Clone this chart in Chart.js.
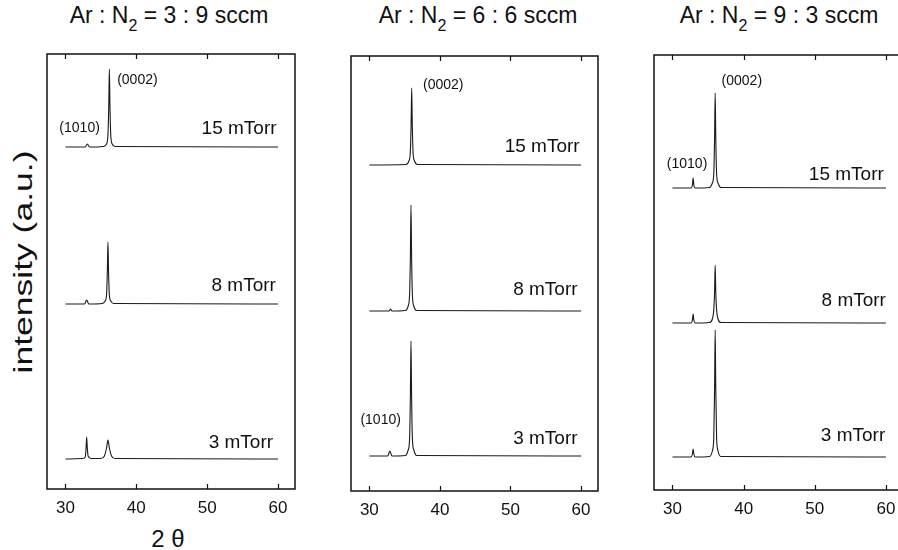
<!DOCTYPE html>
<html>
<head>
<meta charset="utf-8">
<script src="https://cdn.jsdelivr.net/npm/chart.js@4.4.1/dist/chart.umd.min.js"></script>
<style>
  body { margin: 0; width: 898px; height: 550px; overflow: hidden; background: #fff; position: relative;
         font-family: "Liberation Sans", Arial, sans-serif; color: #111; }
  canvas { position: absolute; }
  .title { position: absolute; top: 4px; font-size: 23px; line-height: 23px; white-space: nowrap; transform: translateX(-50%); }
  .title sub { font-size: 16px; vertical-align: baseline; position: relative; top: 8px; }
  .ylab { position: absolute; left: 23px; top: 262px; font-size: 25px; line-height: 25px; white-space: nowrap;
          transform: translate(-50%, -50%) rotate(-90deg) scaleX(1.42); }
  .xlab { position: absolute; left: 168px; top: 527px; font-size: 24px; line-height: 24px; white-space: nowrap; transform: translateX(-50%); }
</style>
</head>
<body>
<div class="title" style="left:169px">Ar : N<sub>2</sub> = 3 : 9 sccm</div>
<div class="title" style="left:478px">Ar : N<sub>2</sub> = 6 : 6 sccm</div>
<div class="title" style="left:779px">Ar : N<sub>2</sub> = 9 : 3 sccm</div>
<div class="ylab">intensity (a.u.)</div>
<div class="xlab">2 θ</div>

<canvas id="c1" width="308" height="485" style="left:17px;top:44px"></canvas>
<canvas id="c2" width="307" height="485" style="left:321px;top:46px"></canvas>
<canvas id="c3" width="309" height="485" style="left:624px;top:45px"></canvas>

<script>
// x axis ticks (2 theta, degrees)
const xTicks = [30, 40, 50, 60];

// Ar:N2 = 3:9 sccm
const p1_15_x = [30, 32.8, 33.1, 33.4, 35.4, 35.8, 36.0, 36.12, 36.2, 36.28, 36.4, 36.6, 37.0, 60];
const p1_15_y = [342, 342, 345, 342, 342.5, 345, 354, 385, 420, 385, 354, 345, 342.5, 342];
const p1_8_x = [30, 32.7, 33.0, 33.3, 35.2, 35.6, 35.8, 35.92, 36.0, 36.08, 36.2, 36.4, 36.8, 60];
const p1_8_y = [185, 185, 189, 185, 185.5, 188, 194, 219, 247, 219, 194, 188, 185.5, 185];
const p1_3_x = [30, 32.4, 32.8, 32.92, 33.0, 33.08, 33.2, 33.6, 35.0, 35.5, 35.8, 36.0, 36.2, 36.5, 37.0, 60];
const p1_3_y = [30, 30.5, 32, 42, 52, 42, 33, 30.5, 30.5, 33, 41, 49, 41, 33, 30.5, 30];

// Ar:N2 = 6:6 sccm
const p2_15_x = [30, 35.2, 35.6, 35.8, 35.92, 36.0, 36.08, 36.2, 36.4, 36.8, 60];
const p2_15_y = [326, 326.5, 330, 338, 368, 403, 368, 338, 330, 326.5, 326];
const p2_8_x = [30, 32.8, 33.0, 33.2, 35.1, 35.5, 35.7, 35.82, 35.9, 35.98, 36.1, 36.3, 36.7, 60];
const p2_8_y = [180, 180, 182, 180, 180.5, 185, 196, 238, 286, 238, 196, 185, 180.5, 180];
const p2_3_x = [30, 32.6, 32.9, 33.2, 35.1, 35.5, 35.7, 35.82, 35.9, 35.98, 36.1, 36.3, 36.7, 60];
const p2_3_y = [35, 35, 40, 35, 35.5, 41, 52, 98, 150, 98, 52, 41, 35.5, 35];

// Ar:N2 = 9:3 sccm
const p3_x = [30, 32.6, 32.8, 32.9, 33.0, 33.2, 35.2, 35.6, 35.8, 35.92, 36.0, 36.08, 36.2, 36.4, 36.8, 60];
const p3_15_y = [302, 302, 305, 312, 305, 302, 302.5, 307, 316, 354, 397, 354, 316, 307, 302.5, 302];
const p3_8_y = [167, 167, 170, 176, 170, 167, 167.5, 171, 180, 199, 225, 199, 180, 171, 167.5, 167];
const p3_3_y = [33, 33, 36, 41, 36, 33, 33.5, 39, 52, 103, 160, 103, 52, 39, 33.5, 33];

const FONT = '"Liberation Sans", Arial, sans-serif';

// text annotations inside each panel (value coords)
const p1Labels = [
  { t: "(0002)", x: 37.3, y: 409, align: "left", size: 14 },
  { t: "(1010)", x: 32.0, y: 361, align: "center", size: 14 },
  { t: "15 mTorr", x: 59.8, y: 360, align: "right", size: 19 },
  { t: "8 mTorr", x: 59.7, y: 203, align: "right", size: 19 },
  { t: "3 mTorr", x: 59.3, y: 46, align: "right", size: 19 }
];
const p2Labels = [
  { t: "(0002)", x: 37.6, y: 406, align: "left", size: 14 },
  { t: "15 mTorr", x: 59.8, y: 344, align: "right", size: 19 },
  { t: "8 mTorr", x: 59.5, y: 201, align: "right", size: 19 },
  { t: "3 mTorr", x: 59.5, y: 52, align: "right", size: 19 },
  { t: "(1010)", x: 31.6, y: 71, align: "center", size: 14 }
];
const p3Labels = [
  { t: "(0002)", x: 36.9, y: 409, align: "left", size: 14 },
  { t: "(1010)", x: 32.05, y: 326, align: "center", size: 14 },
  { t: "15 mTorr", x: 59.7, y: 315, align: "right", size: 19 },
  { t: "8 mTorr", x: 60.0, y: 189, align: "right", size: 19 },
  { t: "3 mTorr", x: 59.9, y: 54, align: "right", size: 19 }
];

function pts(xs, ys) {
  return xs.map((x, i) => ({ x: x, y: ys[i] }));
}

// frame, inward ticks and annotations
const framePlugin = {
  id: "frame",
  afterDatasetsDraw(chart, args, opts) {
    const { ctx, chartArea: a, scales } = chart;
    ctx.save();
    ctx.strokeStyle = "#111";
    ctx.lineWidth = 1.5;
    ctx.strokeRect(a.left, a.top, a.right - a.left, a.bottom - a.top);
    ctx.lineWidth = 1.2;
    xTicks.forEach(v => {
      const px = Math.round(scales.x.getPixelForValue(v)) + 0.5;
      ctx.beginPath();
      ctx.moveTo(px, a.top); ctx.lineTo(px, a.top + 5);
      ctx.moveTo(px, a.bottom); ctx.lineTo(px, a.bottom - 5);
      ctx.stroke();
    });
    ctx.fillStyle = "#111";
    ctx.textBaseline = "middle";
    (opts.labels || []).forEach(l => {
      ctx.font = l.size + "px " + FONT;
      ctx.textAlign = l.align;
      ctx.fillText(l.t, scales.x.getPixelForValue(l.x), scales.y.getPixelForValue(l.y));
    });
    ctx.restore();
  }
};

function makePanel(id, series, labels) {
  new Chart(document.getElementById(id), {
    type: "line",
    data: {
      datasets: series.map(s => ({
        data: pts(s[0], s[1]),
        borderColor: "#1a1a1a",
        borderWidth: 1.1,
        pointRadius: 0,
        cubicInterpolationMode: "monotone"
      }))
    },
    options: {
      responsive: false,
      animation: false,
      layout: { padding: { left: 30, right: 30, top: 10, bottom: 0 } },
      plugins: { legend: { display: false }, tooltip: { enabled: false }, frame: { labels: labels } },
      scales: {
        x: {
          type: "linear", min: 27.4, max: 62.4,
          grid: { display: false, drawTicks: false }, border: { display: false },
          afterBuildTicks: s => { s.ticks = xTicks.map(v => ({ value: v })); },
          afterFit: s => { s.height = 40; },
          ticks: { padding: 9, color: "#111", font: { size: 17, family: FONT } }
        },
        y: { display: false, min: 0, max: 435 }
      }
    },
    plugins: [framePlugin]
  });
}

makePanel("c1", [[p1_15_x, p1_15_y], [p1_8_x, p1_8_y], [p1_3_x, p1_3_y]], p1Labels);
makePanel("c2", [[p2_15_x, p2_15_y], [p2_8_x, p2_8_y], [p2_3_x, p2_3_y]], p2Labels);
makePanel("c3", [[p3_x, p3_15_y], [p3_x, p3_8_y], [p3_x, p3_3_y]], p3Labels);
</script>
</body>
</html>
